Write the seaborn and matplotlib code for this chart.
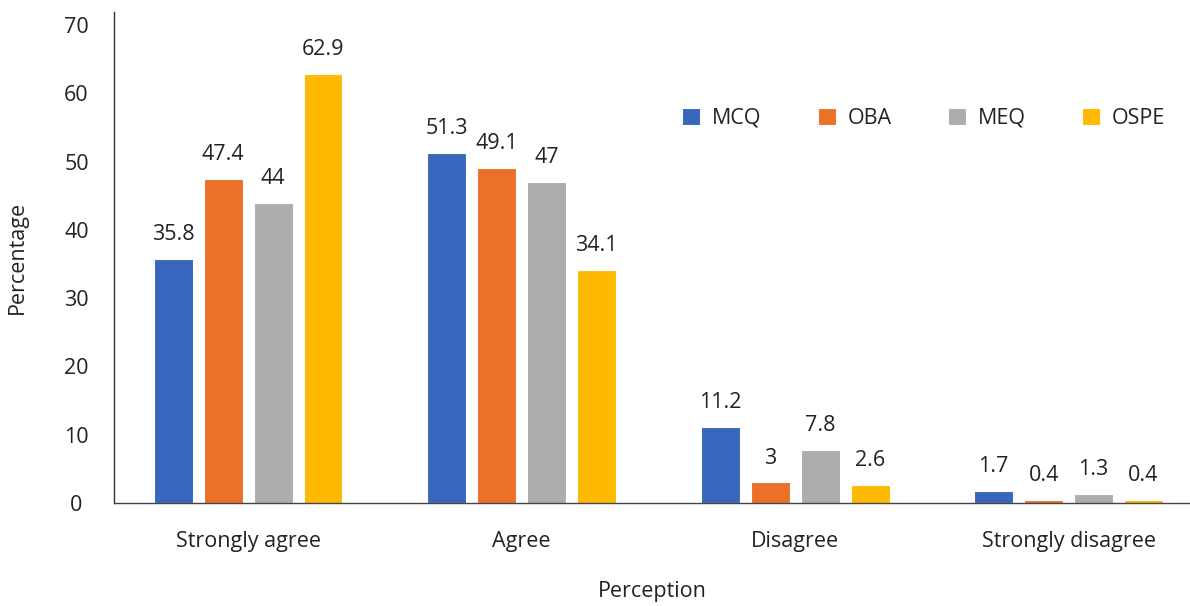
import matplotlib
matplotlib.use("Agg")
import matplotlib.pyplot as plt
import seaborn as sns
import pandas as pd

categories = ["Strongly agree", "Agree", "Disagree", "Strongly disagree"]
series = ["MCQ", "OBA", "MEQ", "OSPE"]
mcq = [35.8, 51.3, 11.2, 1.7]
oba = [47.4, 49.1, 3, 0.4]
meq = [44, 47, 7.8, 1.3]
ospe = [62.9, 34.1, 2.6, 0.4]
colors = ["#3866BC", "#EB7128", "#ADADAD", "#FFB900"]

rows = []
for name, vals in zip(series, [mcq, oba, meq, ospe]):
    for c, v in zip(categories, vals):
        rows.append({"Perception": c, "Series": name, "Percentage": v})
df = pd.DataFrame(rows)

sns.set_theme(style="white")
plt.rcParams["font.family"] = ["Open Sans", "DejaVu Sans"]

FS = 15.5
fig = plt.figure(figsize=(11.9, 6.06), dpi=100)
ax = fig.add_axes([0.0958, 0.170, 0.9042, 0.810])

sns.barplot(data=df, x="Perception", y="Percentage", hue="Series",
            order=categories, hue_order=series, palette=colors,
            width=0.731, gap=0.22, edgecolor="white", linewidth=0.8,
            saturation=1, ax=ax, errorbar=None)

for cont in ax.containers:
    ax.bar_label(cont, labels=[f"{v:g}" for v in cont.datavalues],
                 padding=10, fontsize=FS, color="#222222")

ax.set_ylim(0, 71.9)
ax.set_yticks(range(0, 71, 10))
ax.set_xlim(-0.49, 3.444)
ax.tick_params(axis="both", length=0, labelsize=FS, colors="#222222")
ax.tick_params(axis="x", pad=20)
ax.tick_params(axis="y", pad=27)
for lab in ax.get_yticklabels():
    lab.set_horizontalalignment("center")
ax.set_ylabel("Percentage", fontsize=FS, color="#222222", labelpad=26)
ax.set_xlabel("Perception", fontsize=FS, color="#222222", labelpad=21)

sns.despine(ax=ax, top=True, right=True)
ax.spines["left"].set_color("#333333")
ax.spines["bottom"].set_color("#444444")
ax.spines["left"].set_linewidth(1.0)
ax.spines["bottom"].set_linewidth(1.0)

ax.legend(loc="upper left", bbox_to_anchor=(0.51, 0.845), ncol=4, frameon=False,
          fontsize=FS, handlelength=0.85, handleheight=0.85, handletextpad=0.55,
          columnspacing=2.6, labelcolor="#222222")

fig.savefig("out.png", dpi=100)
